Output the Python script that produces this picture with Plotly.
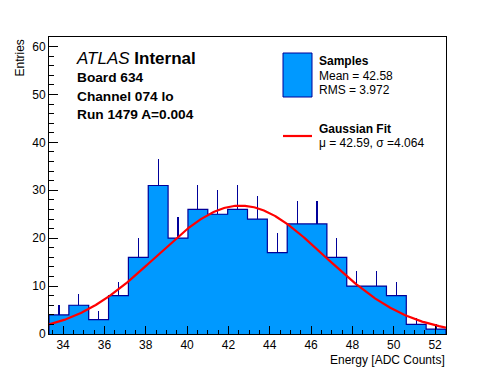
import numpy as np
import plotly.graph_objects as go

# ---- data ----
x_min = 33.32
x_max = 52.53
counts = [4, 6, 3, 8, 16, 31, 20, 26, 25, 26, 24, 17, 23, 23, 16, 10, 10, 8, 2, 1]
fit_mu = 42.59
fit_sigma = 4.064
fit_amp = 26.8
mean_val = 42.58
rms_val = 3.972
x_ticks = [34, 36, 38, 40, 42, 44, 46, 48, 50, 52]
y_ticks = [0, 10, 20, 30, 40, 50, 60]

n_bins = len(counts)
edges = np.linspace(x_min, x_max, n_bins + 1)
centers = 0.5 * (edges[:-1] + edges[1:])
bw = edges[1] - edges[0]
counts_arr = np.array(counts, dtype=float)
errs = np.sqrt(counts_arr)

FILL = "#0099ff"
EDGE = "#000099"
FONT = "Liberation Sans, Arial, Helvetica, sans-serif"

fig = go.Figure()
fig.add_trace(go.Bar(
    x=centers, y=counts_arr, width=bw,
    marker=dict(color=FILL, line=dict(width=0)),
    error_y=dict(type="data", array=errs, arrayminus=np.zeros(n_bins), symmetric=False,
                 width=0, thickness=1.2, color=EDGE),
    showlegend=False, hoverinfo="skip",
))
# step outline
step_x = [edges[0]] + list(edges[:-1]) + [edges[-1], edges[-1]]
step_y = [0] + counts + [counts[-1], 0]
fig.add_trace(go.Scatter(x=step_x, y=step_y, mode="lines", line=dict(color=EDGE, width=1.2, shape="hv"),
                         showlegend=False, hoverinfo="skip"))
# gaussian fit curve
xf = np.linspace(x_min, x_max, 400)
yf = fit_amp * np.exp(-0.5 * ((xf - fit_mu) / fit_sigma) ** 2)
fig.add_trace(go.Scatter(x=xf, y=yf, mode="lines", line=dict(color="#ff0000", width=2.2),
                         showlegend=False, hoverinfo="skip"))

# page body has an 8px default margin: work in window pixels and shift
OFF = 8
W, H = 496 - OFF, 372 - OFF
L, R, T, B = 49 - OFF, 50, 37 - OFF, 38
PW, PH = W - L - R, H - T - B

def px(xp):
    return (xp - OFF - L) / PW

def py(yp):
    return (H - B - (yp - OFF)) / PH

ann = []
def text(s, x, y, size, xanchor="left", yanchor="middle", **kw):
    ann.append(dict(text=s, x=px(x), y=py(y), xref="paper", yref="paper", showarrow=False,
                    xanchor=xanchor, yanchor=yanchor, font=dict(family=FONT, size=size, color="black"), **kw))

text("<i>ATLAS</i> <b>Internal</b>", 74, 58.5, 17)
text("<b>Board 634</b>", 75, 77.5, 13.7)
text("<b>Channel 074 lo</b>", 75, 96, 13.7)
text("<b>Run 1479 A=0.004</b>", 75, 114.5, 13.7)
text("<b>Samples</b>", 317, 61, 12)
text(f"Mean = {mean_val:.2f}", 317, 76, 12)
text(f"RMS = {rms_val:.3f}", 317, 90, 12)
text("<b>Gaussian Fit</b>", 317, 129, 12)
text(f"\u03bc = {fit_mu:.2f}, \u03c3 ={fit_sigma:.3f}", 317, 143, 12)
text("Energy [ADC Counts]", 446.5, 359.5, 12, xanchor="right")
text("Entries", 19, 37, 12, xanchor="center", yanchor="top", textangle=-90)

shapes = [
    dict(type="rect", xref="paper", yref="paper", x0=px(283), x1=px(312), y0=py(53), y1=py(97),
         fillcolor=FILL, line=dict(color=EDGE, width=1)),
    dict(type="line", xref="paper", yref="paper", x0=px(283), x1=px(312), y0=py(136), y1=py(136),
         line=dict(color="#ff0000", width=2.2)),
]

fig.update_layout(
    width=W, height=H, margin=dict(l=L, r=R, t=T, b=B),
    paper_bgcolor="white", plot_bgcolor="white",
    bargap=0, showlegend=False,
    font=dict(family=FONT, size=12, color="black"),
    annotations=ann, shapes=shapes,
    xaxis=dict(range=[x_min, x_max], tickvals=x_ticks, ticktext=[str(v) for v in x_ticks],
               ticks="inside", ticklen=8, tickcolor="black", showline=True, linecolor="black", linewidth=1,
               mirror=True, showgrid=False, zeroline=False,
               minor=dict(dtick=0.5, tick0=34, ticks="inside", ticklen=4, tickcolor="black"),
               tickfont=dict(size=12)),
    yaxis=dict(range=[0, 62], tickvals=y_ticks, ticktext=[str(v) for v in y_ticks],
               ticks="inside", ticklen=9, tickcolor="black", showline=True, linecolor="black", linewidth=1,
               mirror=True, showgrid=False, zeroline=False,
               minor=dict(dtick=2, tick0=0, ticks="inside", ticklen=4.5, tickcolor="black"),
               tickfont=dict(size=12)),
)

fig.write_html("out.html")
